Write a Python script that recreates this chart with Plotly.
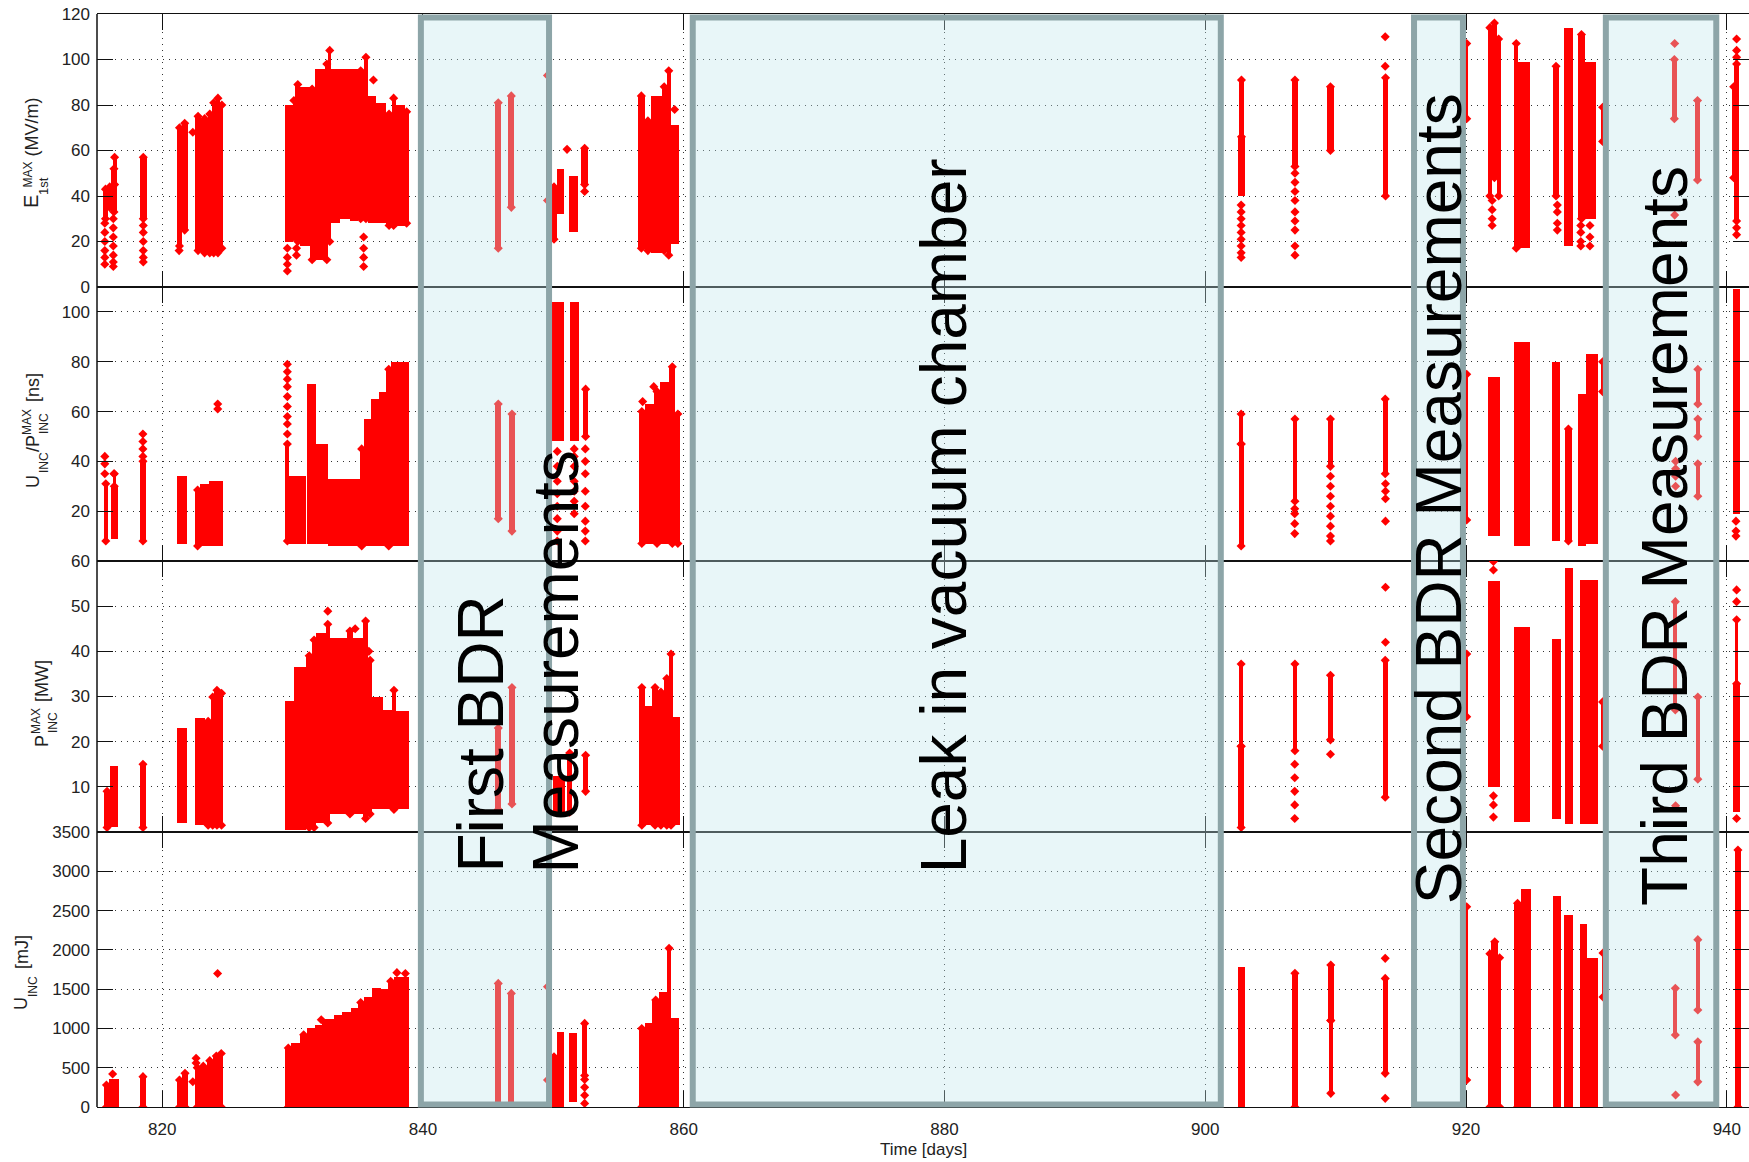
import plotly.graph_objects as go
from plotly.subplots import make_subplots

# ---------------- data ----------------
X_TICKS = [820, 840, 860, 880, 900, 920, 940]

Y1_TICKS = [0, 20, 40, 60, 80, 100, 120]
Y2_TICKS = [20, 40, 60, 80, 100]
Y3_TICKS = [10, 20, 30, 40, 50, 60]
Y4_TICKS = [0, 500, 1000, 1500, 2000, 2500, 3000, 3500]

# dense bands of measurements: (day_start, day_end, low, high)
E_BANDS = [
    (815.45, 815.85, 30, 43), (815.85, 816.1, 35, 44), (816.05, 816.55, 33, 52),
    (816.2, 816.5, 45, 57), (818.3, 818.8, 30, 57),
    (821.15, 821.5, 18, 70), (821.5, 821.95, 25, 72),
    (822.5, 823.0, 16, 75), (823.0, 823.5, 15, 74), (823.5, 823.8, 15, 76),
    (823.8, 824.1, 15, 81), (824.1, 824.45, 15, 83), (824.45, 824.7, 17, 80),
    (829.4, 830.0, 20, 80), (830.0, 830.2, 22, 82), (830.2, 830.6, 20, 89),
    (830.6, 831.3, 18, 88), (831.3, 831.7, 12, 87), (831.7, 832.5, 12, 96),
    (832.5, 832.75, 12, 98), (832.75, 832.95, 20, 104), (832.95, 833.6, 28, 96),
    (833.6, 834.4, 30, 96), (834.4, 835.0, 29, 96), (835.0, 835.45, 30, 95),
    (835.45, 835.8, 30, 101), (835.8, 836.4, 28, 84), (836.4, 837.2, 28, 81),
    (837.2, 837.6, 27, 76), (837.6, 837.9, 27, 83), (837.9, 838.6, 27, 80),
    (838.6, 838.9, 28, 77),
    (845.55, 846.0, 17, 81), (846.55, 847.0, 35, 84), (849.4, 849.7, 38, 93),
    (849.85, 850.25, 21, 44), (850.25, 850.85, 32, 52), (851.2, 851.9, 24, 49),
    (852.15, 852.65, 45, 61),
    (856.5, 857.0, 17, 84), (857.0, 857.5, 16, 73), (857.5, 858.3, 15, 84),
    (858.3, 858.7, 16, 88), (858.7, 859.0, 14, 95), (859.0, 859.6, 19, 71),
    (902.5, 903.05, 40, 66), (902.6, 902.95, 66, 91), (906.65, 907.1, 53, 91),
    (909.35, 909.85, 60, 88), (913.6, 914.05, 40, 92),
    (919.95, 920.15, 74, 107), (921.65, 922.0, 40, 114), (922.0, 922.35, 48, 116),
    (922.35, 922.65, 40, 109), (923.7, 924.0, 17, 107), (924.0, 924.9, 17, 99),
    (926.65, 927.15, 40, 97), (927.5, 928.2, 18, 114), (928.6, 929.1, 30, 111),
    (929.1, 930.0, 30, 99), (930.35, 930.6, 64, 79),
    (935.8, 936.15, 74, 100), (937.55, 937.95, 47, 82),
    (940.45, 940.6, 48, 88), (940.55, 940.95, 29, 98),
]
E_POINTS = [
    (815.6, 28), (815.6, 24), (815.6, 20), (815.6, 16), (815.6, 13), (815.6, 10),
    (816.25, 30), (816.25, 26), (816.25, 22), (816.25, 18), (816.25, 14), (816.25, 11), (816.25, 9),
    (818.55, 27), (818.55, 24), (818.55, 20), (818.55, 16), (818.55, 13), (818.55, 11),
    (821.3, 16), (822.35, 68),
    (829.6, 17), (829.6, 13), (829.6, 10), (829.6, 7), (830.3, 17), (830.3, 14),
    (835.45, 22), (835.45, 17), (835.45, 13), (835.45, 9), (836.2, 91),
    (851.05, 60.5), (852.4, 42), (859.3, 78),
    (902.75, 36), (902.75, 33), (902.75, 30), (902.75, 27), (902.75, 24), (902.75, 21),
    (902.75, 18), (902.75, 15), (902.75, 13),
    (906.88, 50), (906.88, 46), (906.88, 42), (906.88, 38), (906.88, 33), (906.88, 29),
    (906.88, 25), (906.88, 18), (906.88, 14),
    (913.8, 97), (913.8, 110),
    (922.0, 38), (922.0, 34), (922.0, 30), (922.0, 27),
    (927.0, 36), (927.0, 33), (927.0, 28), (927.0, 25),
    (928.8, 27), (928.8, 24), (928.8, 20), (928.8, 18), (929.5, 27), (929.5, 22), (929.5, 18),
    (936.0, 107), (936.0, 31.6),
    (940.75, 109), (940.75, 104), (940.75, 101), (940.75, 26), (940.75, 23),
]

UP_BANDS = [
    (815.5, 815.85, 8, 31), (816.05, 816.6, 9, 30), (816.2, 816.45, 30, 35),
    (818.3, 818.75, 8, 40), (821.16, 821.92, 7, 34),
    (822.53, 822.9, 6, 28.5), (822.9, 823.6, 6, 31), (823.6, 824.66, 6, 32),
    (829.45, 829.75, 8, 47), (829.75, 831.05, 7, 34), (831.1, 831.8, 7, 71),
    (831.8, 832.7, 7, 47), (832.7, 835.15, 6, 33), (835.15, 835.45, 6, 45),
    (835.45, 836.0, 6, 57), (836.0, 836.6, 6, 65), (836.6, 837.2, 6, 68),
    (837.2, 837.55, 6, 77), (837.55, 838.95, 6, 80),
    (845.55, 846.0, 17, 63), (846.6, 847.05, 12, 59),
    (849.8, 850.8, 48, 104), (851.25, 852.0, 48, 104), (852.3, 852.65, 50, 69),
    (856.57, 857.0, 7, 60), (857.0, 857.7, 7, 63), (857.7, 858.2, 7, 68),
    (858.2, 858.9, 7, 72), (858.9, 859.35, 7, 78), (859.35, 859.75, 7, 59),
    (902.55, 902.95, 6, 47), (902.6, 902.9, 47, 59), (906.7, 907.05, 24, 57),
    (909.4, 909.8, 38, 57), (913.6, 914.0, 35, 65),
    (919.95, 920.15, 16.5, 75), (921.7, 922.6, 10, 74), (923.7, 924.9, 6, 88),
    (926.6, 927.2, 8, 80), (927.6, 928.1, 8, 53), (928.6, 929.2, 6, 67),
    (929.2, 930.1, 7, 83), (930.35, 930.6, 68, 80),
    (937.6, 937.95, 63, 77), (937.6, 937.95, 50, 57), (937.6, 937.95, 26, 39),
    (940.45, 941.0, 19, 109),
]
UP_POINTS = [
    (815.6, 42), (815.6, 39), (815.6, 35), (816.3, 35),
    (818.52, 51), (818.52, 48), (818.52, 45), (818.52, 42),
    (824.26, 63), (824.26, 61),
    (829.6, 79), (829.6, 76), (829.6, 73), (829.6, 70), (829.6, 66), (829.6, 62),
    (829.6, 58), (829.6, 55), (829.6, 51),
    (850.3, 44), (850.3, 38), (850.3, 32), (850.3, 27), (850.3, 22), (850.3, 17), (850.3, 12), (850.3, 8),
    (851.6, 45), (851.6, 42), (851.6, 38), (851.6, 32), (851.6, 28), (851.6, 24), (851.6, 19),
    (852.45, 45), (852.45, 40), (852.45, 35), (852.45, 28), (852.45, 22), (852.45, 16),
    (852.45, 12), (852.45, 8),
    (856.85, 64), (857.7, 70),
    (906.86, 21), (906.86, 19), (906.86, 15), (906.86, 11),
    (909.6, 34), (909.6, 30), (909.6, 26), (909.6, 22), (909.6, 18), (909.6, 14), (909.6, 10), (909.6, 8),
    (913.82, 31), (913.82, 28), (913.82, 25), (913.82, 16),
    (936.07, 40), (936.07, 37), (936.07, 34), (936.07, 30),
    (940.7, 16), (940.7, 12), (940.7, 10),
]

P_BANDS = [
    (815.54, 816.0, 1, 9), (816.0, 816.6, 1, 14.6), (818.3, 818.75, 1, 15),
    (821.16, 821.92, 2, 23),
    (822.53, 823.3, 1.5, 25.2), (823.3, 823.75, 1.5, 24.5), (823.75, 824.0, 1.5, 29.9),
    (824.0, 824.4, 1.5, 31.4), (824.4, 824.7, 1.5, 30.7),
    (829.45, 830.1, 0.5, 29), (830.1, 831.05, 0.5, 36.5), (831.05, 831.5, 1, 39),
    (831.5, 831.8, 1, 42.5), (831.8, 832.55, 2, 44), (832.55, 832.85, 2, 46),
    (832.85, 834.2, 4, 43), (834.2, 834.6, 4, 44.5), (834.6, 835.4, 4, 43),
    (835.4, 835.8, 3, 46.7), (835.8, 836.1, 4, 38), (836.1, 836.9, 5, 30),
    (836.9, 837.6, 5, 27), (837.6, 837.95, 5, 31.4), (837.95, 838.94, 5, 26.7),
    (845.55, 846.0, 5, 23), (846.6, 847.05, 6.2, 32),
    (850.0, 850.9, 3.6, 12.4), (851.05, 851.45, 4.4, 17.5), (852.3, 852.65, 9, 17),
    (856.57, 857.0, 1.5, 32), (857.0, 857.6, 1.5, 28), (857.6, 858.0, 1.5, 32),
    (858.0, 858.5, 1.5, 31), (858.5, 858.9, 1.5, 34), (858.9, 859.15, 1.5, 39.4),
    (859.15, 859.75, 1.5, 25.5),
    (902.5, 903.0, 1, 19), (902.6, 902.9, 19, 37.2), (906.7, 907.05, 18, 37.2),
    (909.4, 909.8, 20.4, 34.7), (913.6, 914.0, 7.7, 38),
    (919.95, 920.15, 25.5, 39.4), (921.7, 922.6, 10, 55.5), (923.7, 924.9, 2.2, 45.3),
    (926.6, 927.3, 2.9, 42.7), (927.6, 928.2, 1.8, 58.4), (928.7, 930.1, 1.8, 55.8),
    (930.35, 930.6, 19, 28.8),
    (935.9, 936.2, 27, 51), (937.6, 937.95, 11.7, 29.9),
    (940.45, 941.0, 4.4, 32.8), (940.65, 940.85, 32.8, 47),
]
P_POINTS = [
    (832.7, 48.9), (834.8, 45), (835.85, 40),
    (906.86, 15), (906.86, 12), (906.86, 9), (906.86, 6), (906.86, 3),
    (909.6, 17.2), (913.82, 54.2), (913.82, 42),
    (922.1, 59.9), (922.1, 58), (922.1, 8), (922.1, 6), (922.1, 3.3),
    (936.07, 5.8),
    (940.75, 53.6), (940.75, 51), (940.75, 3),
]

U_BANDS = [
    (815.5, 815.95, 0, 280), (815.95, 816.7, 0, 360), (818.3, 818.75, 0, 386),
    (821.15, 821.5, 0, 343), (821.5, 822.0, 0, 428),
    (822.48, 822.9, 0, 500), (822.9, 823.4, 0, 520), (823.4, 823.9, 0, 590),
    (823.9, 824.4, 0, 650), (824.4, 824.66, 0, 680),
    (829.44, 829.9, 0, 750), (829.9, 830.6, 0, 820), (830.6, 831.1, 0, 920),
    (831.1, 831.7, 0, 1000), (831.7, 832.25, 0, 1050), (832.25, 833.15, 0, 1120),
    (833.15, 833.8, 0, 1170), (833.8, 834.45, 0, 1210), (834.45, 835.0, 0, 1260),
    (835.0, 835.45, 0, 1330), (835.45, 836.1, 0, 1400), (836.1, 836.75, 0, 1520),
    (836.75, 837.3, 0, 1500), (837.3, 837.75, 0, 1600), (837.75, 838.9, 0, 1650),
    (845.55, 846.0, 0, 1573), (846.55, 847.0, 0, 1446), (849.4, 849.7, 343, 1530),
    (849.85, 850.25, 0, 640), (850.25, 850.8, 0, 959), (851.18, 851.85, 68, 937),
    (852.2, 852.6, 400, 1064),
    (856.56, 857.0, 0, 1000), (857.0, 857.6, 0, 1064), (857.6, 858.1, 0, 1361),
    (858.1, 858.7, 0, 1467), (858.7, 859.05, 0, 2019), (859.05, 859.63, 0, 1128),
    (902.5, 903.05, 0, 1786), (906.65, 907.1, 0, 1701),
    (909.4, 909.85, 1100, 1807), (909.45, 909.8, 174, 1100), (913.6, 914.0, 428, 1637),
    (919.95, 920.15, 343, 2549),
    (921.7, 921.95, 0, 1950), (921.95, 922.45, 0, 2104), (922.45, 922.7, 0, 1900),
    (923.7, 924.2, 0, 2592), (924.2, 924.95, 0, 2780), (926.7, 927.3, 0, 2686),
    (927.5, 928.2, 0, 2443), (928.7, 929.3, 0, 2323), (929.3, 930.1, 0, 1900),
    (930.4, 930.6, 1400, 1960),
    (935.9, 936.2, 916, 1510), (937.6, 937.95, 1235, 2130), (937.6, 937.95, 320, 829),
    (940.6, 941.1, 0, 3270),
]
U_POINTS = [
    (816.2, 420), (822.35, 322), (822.6, 620), (822.6, 560), (824.25, 1700),
    (832.2, 1110), (838.0, 1710), (838.65, 1700),
    (852.4, 350), (852.4, 250), (852.4, 150), (852.4, 46),
    (913.8, 1892), (913.8, 110), (936.07, 153),
]

# shaded measurement periods (days)
REGION_START = [839.84, 860.69, 916.01, 930.72]
REGION_END = [849.67, 901.19, 919.76, 939.19]
REGION_TEXT = ["First BDR", "Measurements", "Leak in vacuum chamber",
               "Second BDR Measurements", "Third BDR Measurements"]
REGION_TEXT_DAY = [844.38, 850.2, 879.95, 917.91, 935.25]

# ---------------- layout helpers ----------------
W, H = 1749, 1162
FONT = "Arial, Liberation Sans, sans-serif"
RED = "#ff0000"


def py2paper(py):
    return 1 - py / H


def px2paper(px):
    return px / W


PANEL_EDGES = [14, 287, 561, 832, 1107]  # pixel rows of panel borders
X_DOMAIN = [px2paper(97), 1.0]

fig = make_subplots(rows=4, cols=1, shared_xaxes=True, vertical_spacing=0)

panels = [(E_BANDS, E_POINTS), (UP_BANDS, UP_POINTS), (P_BANDS, P_POINTS), (U_BANDS, U_POINTS)]
for i, (bands, pts) in enumerate(panels, start=1):
    fig.add_trace(go.Bar(
        x=[(b[0] + b[1]) / 2 for b in bands],
        width=[b[1] - b[0] for b in bands],
        base=[b[2] for b in bands],
        y=[b[3] - b[2] for b in bands],
        marker=dict(color=RED, line=dict(width=0)),
        hoverinfo="skip",
    ), row=i, col=1)
    # diamond tips at the ends of narrow measurement columns
    narrow = [b for b in bands if b[1] - b[0] <= 0.5]
    tip_x = [(b[0] + b[1]) / 2 for b in narrow for _ in (0, 1)]
    tip_y = [v for b in narrow for v in (b[2], b[3])]
    fig.add_trace(go.Scatter(
        x=tip_x + [p[0] for p in pts], y=tip_y + [p[1] for p in pts], mode="markers",
        marker=dict(symbol="diamond", size=7, color=RED, line=dict(width=0)),
        hoverinfo="skip", cliponaxis=True,
    ), row=i, col=1)

y_specs = [([0, 120], Y1_TICKS), ([0, 110], Y2_TICKS), ([0, 60], Y3_TICKS), ([0, 3500], Y4_TICKS)]
axis_common = dict(
    ticks="inside", ticklen=16, tickwidth=1.2, tickcolor="#111",
    showgrid=True, gridcolor="#333", gridwidth=1, griddash="1px,5px",
    zeroline=False, tickfont=dict(family=FONT, size=17, color="#222"),
    automargin=False,
)
for i in range(1, 5):
    top, bot = PANEL_EDGES[i - 1], PANEL_EDGES[i]
    rng, tv = y_specs[i - 1]
    fig.update_yaxes(row=i, col=1, range=rng, tickvals=tv, ticktext=[str(t) for t in tv],
                     domain=[py2paper(bot), py2paper(top)], showline=False,
                     mirror="ticks", ticklabelstandoff=6, **axis_common)
    fig.update_xaxes(row=i, col=1, range=[815.0, 941.7], tickvals=X_TICKS,
                     ticktext=[str(t) for t in X_TICKS], domain=X_DOMAIN,
                     showline=True, linecolor="#111", linewidth=1.2, mirror="ticks",
                     showticklabels=(i == 4), ticklabelstandoff=6, **axis_common)

# left border line
shapes = [dict(type="line", xref="paper", yref="paper", x0=X_DOMAIN[0], x1=X_DOMAIN[0],
               y0=py2paper(1107), y1=py2paper(14), line=dict(color="#111", width=1.5))]
for s, e in zip(REGION_START, REGION_END):
    shapes.append(dict(type="rect", xref="x4", yref="paper", x0=s, x1=e,
                       y0=py2paper(1104.5), y1=py2paper(17.5), layer="above",
                       fillcolor="rgba(190,230,235,0.36)",
                       line=dict(color="#8da5a8", width=6)))

annotations = []
text_bottoms = [875, 875, 875, 906, 908]
for t, d, b in zip(REGION_TEXT, REGION_TEXT_DAY, text_bottoms):
    annotations.append(dict(text=t, x=d, xref="x4", y=py2paper(b), yref="paper",
                            textangle=-90, xanchor="center", yanchor="bottom",
                            showarrow=False, font=dict(family=FONT, size=64, color="#000")))

LABEL_PIECES = [
    ("E", 30.5, 201.5, 20), ("MAX", 27.5, 175, 12), ("1st", 43, 186, 13), ("(MV/m)", 31.5, 127, 18),
    ("U", 33, 482, 18), ("INC", 44, 463, 12), ("/P", 33, 444, 18), ("MAX", 27, 422, 12),
    ("INC", 44, 424, 12), ("[ns]", 33, 388, 18),
    ("P", 42, 741, 18), ("MAX", 36, 721, 12), ("INC", 53, 723, 12), ("[MW]", 42, 681, 18),
    ("U", 21, 1004, 18), ("INC", 33, 987, 12), ("[mJ]", 22, 952, 18),
]
for t, x, y, s in LABEL_PIECES:
    annotations.append(dict(text=t, x=px2paper(x), y=py2paper(y), xref="paper", yref="paper",
                            textangle=-90, xanchor="center", yanchor="middle", showarrow=False,
                            font=dict(family=FONT, size=s, color="#222")))
annotations.append(dict(text="Time [days]", x=px2paper(923), y=py2paper(1149), xref="paper",
                        yref="paper", xanchor="center", yanchor="middle", showarrow=False,
                        font=dict(family=FONT, size=17, color="#222")))

fig.update_layout(
    width=W, height=H, margin=dict(l=0, r=0, t=0, b=0, pad=0, autoexpand=False),
    paper_bgcolor="white", plot_bgcolor="white", showlegend=False,
    barmode="overlay", bargap=0, shapes=shapes, annotations=annotations,
    font=dict(family=FONT),
)

fig.write_html("out.html")
